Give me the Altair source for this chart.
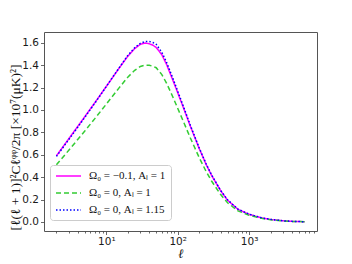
import altair as alt
import pandas as pd

# multipole ell
ell = [2, 3, 4, 5, 7, 10, 15, 20, 25, 30, 35, 40, 45, 50, 60, 70, 85, 100, 120, 150,
       200, 250, 300, 400, 500, 700, 1000, 1500, 2000, 3000, 4000, 6000]
# Omega0 = -0.1, A_L = 1 (magenta solid)
mag = [0.590, 0.745, 0.855, 0.940, 1.070, 1.210, 1.370, 1.480, 1.548, 1.586, 1.598, 1.591,
       1.578, 1.558, 1.493, 1.405, 1.270, 1.155, 1.022, 0.857, 0.656, 0.514, 0.413, 0.278,
       0.194, 0.112, 0.068, 0.036, 0.022, 0.010, 0.005, 0.002]
# Omega0 = 0, A_L = 1 (green dashed)
grn = [0.510, 0.642, 0.738, 0.812, 0.927, 1.052, 1.195, 1.293, 1.354, 1.388, 1.400, 1.399,
       1.390, 1.377, 1.316, 1.238, 1.120, 1.015, 0.898, 0.752, 0.575, 0.451, 0.363, 0.244,
       0.171, 0.099, 0.059, 0.032, 0.019, 0.009, 0.004, 0.002]
# Omega0 = 0, A_L = 1.15 (blue dotted)
blu = [0.585, 0.738, 0.848, 0.934, 1.066, 1.209, 1.373, 1.486, 1.556, 1.595, 1.611, 1.612,
       1.602, 1.586, 1.514, 1.424, 1.288, 1.168, 1.033, 0.865, 0.662, 0.519, 0.418, 0.281,
       0.197, 0.114, 0.069, 0.037, 0.023, 0.010, 0.005, 0.002]

names = ["Ω₀ = −0.1, Aₗ = 1", "Ω₀ = 0, Aₗ = 1", "Ω₀ = 0, Aₗ = 1.15"]
colors = ["#ff00ff", "#33cc33", "#0000ff"]
dashes = [[1, 0], [5, 3], [1.5, 2]]
widths = [1.5, 1.5, 2]

x_major = [10, 100, 1000]
x_major_labels = ["10¹", "10²", "10³"]
x_minor = [2, 3, 4, 5, 6, 7, 8, 9, 20, 30, 40, 50, 60, 70, 80, 90,
           200, 300, 400, 500, 600, 700, 800, 900, 2000, 3000, 4000, 5000, 6000, 7000, 8000]
y_ticks = [0.0, 0.2, 0.4, 0.6, 0.8, 1.0, 1.2, 1.4, 1.6]

rows = []
for nm, vals in zip(names, [mag, grn, blu]):
    for l, v in zip(ell, vals):
        rows.append({"ell": l, "value": v, "series": nm})
df = pd.DataFrame(rows)

x_scale = alt.Scale(type="log", domain=[1.34, 8950], nice=False)
y_scale = alt.Scale(domain=[-0.081, 1.696], nice=False, zero=False)

label_expr = " : ".join(
    f"datum.value == {v} ? '{t}'" for v, t in zip(x_major, x_major_labels)
) + " : ''"

leg = alt.Legend(title=None, orient="none", legendX=6, legendY=133)

lines = alt.Chart(df).mark_line(clip=True).encode(
    x=alt.X("ell:Q", scale=x_scale,
            axis=alt.Axis(values=x_major, labelExpr=label_expr, title="ℓ",
                          orient="bottom", tickSize=3.5, labelPadding=2,
                          titleFont="Liberation Serif", titleFontStyle="italic",
                          titleFontSize=13, titleFontWeight="normal",
                          titleY=22, titleBaseline="middle")),
    y=alt.Y("value:Q", scale=y_scale,
            axis=alt.Axis(values=y_ticks, format=".1f", tickSize=3.5, labelPadding=2,
                          title="[ℓ(ℓ + 1)]²Cℓᵠᵠ/2π    [×10⁷(μK)²]",
                          titleFont="Liberation Serif", titleFontSize=13.5,
                          titleFontWeight="normal", titleX=-25, titleY=115,
                          titleAlign="center", titleBaseline="alphabetic", titleAngle=270)),
    color=alt.Color("series:N", scale=alt.Scale(domain=names, range=colors), legend=leg),
    strokeDash=alt.StrokeDash("series:N", scale=alt.Scale(domain=names, range=dashes), legend=leg),
    strokeWidth=alt.StrokeWidth("series:N", scale=alt.Scale(domain=names, range=widths), legend=leg),
)

minor = alt.Chart(df).mark_point(opacity=0).encode(
    x=alt.X("ell:Q", scale=x_scale,
            axis=alt.Axis(values=x_minor, labels=False, tickSize=2, domain=False,
                          title=None, orient="bottom")),
    y=alt.Y("value:Q", scale=y_scale, axis=None),
)

chart = alt.layer(lines, minor).resolve_axis(
    x="independent", y="independent"
).properties(
    width=273, height=199,
    autosize=alt.AutoSizeParams(type="none"),
    padding={"left": 36, "top": 24, "right": 20, "bottom": 30},
).configure_view(
    stroke="#555", strokeWidth=1
).configure_axis(
    grid=False, domain=False, tickColor="#444", tickWidth=0.8,
    labelFont="DejaVu Sans", labelFontSize=10.5, labelColor="#1a1a1a",
    titleColor="#111",
).configure_legend(
    symbolType="M-1,0H4", symbolSize=100, labelOffset=22,
    labelFont="Liberation Serif", labelFontSize=11, labelColor="#111",
    padding=5, rowPadding=6, fillColor="rgba(255,255,255,0.8)",
    strokeColor="#cccccc", cornerRadius=3, labelLimit=200,
)

chart.save("out.html", embed_options={"renderer": "svg", "actions": False})
